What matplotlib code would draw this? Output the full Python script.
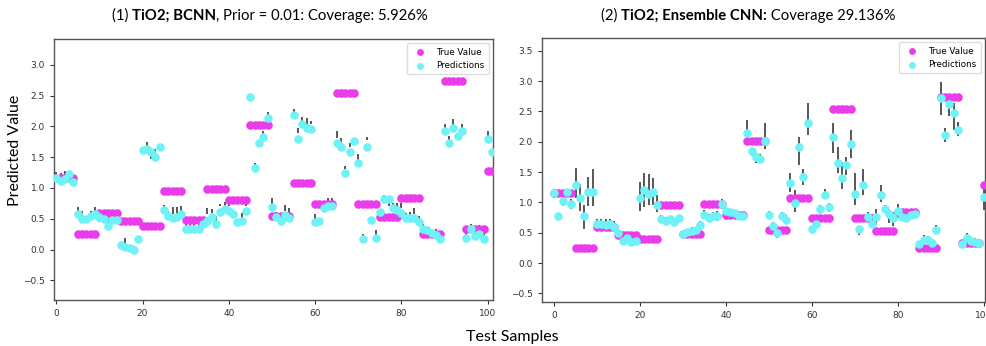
import numpy as np
import matplotlib
matplotlib.use("Agg")
import matplotlib.pyplot as plt

# true TiO2 values per test sample (same for both models)
true_vals = [
    1.16, 1.16, 1.16, 1.16, 1.16,
    0.25, 0.25, 0.25, 0.25, 0.25,
    0.59, 0.59, 0.59, 0.59, 0.59,
    0.47, 0.47, 0.47, 0.47, 0.47,
    0.39, 0.39, 0.39, 0.39, 0.39,
    0.95, 0.95, 0.95, 0.95, 0.95,
    0.48, 0.48, 0.48, 0.48, 0.48,
    0.98, 0.98, 0.98, 0.98, 0.98,
    0.80, 0.80, 0.80, 0.80, 0.80,
    2.02, 2.02, 2.02, 2.02, 2.02,
    0.55, 0.55, 0.55, 0.55, 0.55,
    1.08, 1.08, 1.08, 1.08, 1.08,
    0.74, 0.74, 0.74, 0.74, 0.74,
    2.54, 2.54, 2.54, 2.54, 2.54,
    0.74, 0.74, 0.74, 0.74, 0.74,
    0.53, 0.53, 0.53, 0.53, 0.53,
    0.84, 0.84, 0.84, 0.84, 0.84,
    0.25, 0.25, 0.25, 0.25, 0.25,
    2.73, 2.73, 2.73, 2.73, 2.73,
    0.33, 0.33, 0.33, 0.33, 0.33,
    1.28, 1.28,
]

# (1) BCNN predictions and interval bounds
bcnn_pred = [
    1.17, 1.11, 1.14, 1.23, 1.10, 0.58, 0.50, 0.50, 0.55, 0.58,
    0.53, 0.50, 0.39, 0.48, 0.48, 0.07, 0.04, 0.02, 0.00, 0.17,
    1.61, 1.63, 1.59, 1.50, 1.66, 0.64, 0.54, 0.51, 0.53, 0.57,
    0.34, 0.33, 0.34, 0.34, 0.41, 0.47, 0.53, 0.42, 0.61, 0.66,
    0.63, 0.58, 0.44, 0.47, 0.62, 2.47, 1.33, 1.73, 1.82, 2.14,
    0.69, 0.53, 0.47, 0.56, 0.51, 2.19, 1.80, 2.04, 1.98, 1.95,
    0.45, 0.46, 0.68, 0.70, 0.70, 1.73, 1.67, 1.25, 1.58, 1.76,
    1.40, 0.17, 1.66, 0.48, 0.19, 0.61, 0.82, 0.82, 0.67, 0.65,
    0.60, 0.52, 0.51, 0.51, 0.45, 0.34, 0.32, 0.27, 0.23, 0.17,
    1.93, 1.73, 1.98, 1.85, 1.92, 0.19, 0.34, 0.22, 0.25, 0.17,
    1.79, 1.58,
]
bcnn_lo = [
    1.21, 1.20, 1.21, 1.21, 1.08, 0.63, 0.55, 0.48, 0.56, 0.62,
    0.45, 0.48, 0.41, 0.55, 0.46, 0.05, 0.09, 0.04, 0.02, 0.15,
    1.59, 1.67, 1.47, 1.55, 1.64, 0.69, 0.58, 0.58, 0.58, 0.61,
    0.37, 0.37, 0.37, 0.37, 0.44, 0.58, 0.59, 0.46, 0.70, 0.70,
    0.70, 0.56, 0.42, 0.51, 0.70, 2.50, 1.37, 1.75, 1.86, 2.18,
    0.74, 0.56, 0.45, 0.63, 0.60, 2.24, 1.89, 2.06, 2.01, 2.04,
    0.49, 0.44, 0.66, 0.74, 0.74, 1.81, 1.70, 1.31, 1.66, 1.74,
    1.45, 0.19, 1.78, 0.46, 0.22, 0.59, 0.84, 0.71, 0.69, 0.68,
    0.67, 0.55, 0.55, 0.58, 0.50, 0.36, 0.30, 0.25, 0.26, 0.15,
    1.95, 1.78, 2.00, 1.78, 1.96, 0.22, 0.38, 0.22, 0.34, 0.21,
    1.85, 1.56,
]
bcnn_hi = [
    1.26, 1.24, 1.28, 1.25, 1.12, 0.69, 0.62, 0.52, 0.62, 0.69,
    0.50, 0.52, 0.56, 0.64, 0.50, 0.09, 0.19, 0.08, 0.05, 0.19,
    1.63, 1.75, 1.54, 1.64, 1.68, 0.73, 0.62, 0.69, 0.69, 0.70,
    0.44, 0.44, 0.44, 0.44, 0.49, 0.67, 0.66, 0.54, 0.74, 0.78,
    0.75, 0.60, 0.46, 0.60, 0.78, 2.53, 1.40, 1.78, 1.93, 2.24,
    0.84, 0.61, 0.49, 0.72, 0.67, 2.28, 1.97, 2.15, 2.13, 2.09,
    0.57, 0.48, 0.70, 0.84, 0.84, 1.92, 1.81, 1.36, 1.73, 1.78,
    1.55, 0.25, 1.82, 0.50, 0.32, 0.63, 0.88, 0.76, 0.75, 0.76,
    0.76, 0.60, 0.61, 0.68, 0.55, 0.41, 0.34, 0.29, 0.33, 0.19,
    2.04, 1.85, 2.12, 1.84, 2.04, 0.29, 0.42, 0.30, 0.40, 0.28,
    1.92, 1.60,
]

# (2) Ensemble CNN predictions and interval bounds
ens_pred = [
    1.15, 0.77, 1.03, 1.17, 0.98, 1.29, 1.08, 0.77, 1.18, 1.18,
    0.64, 0.65, 0.63, 0.64, 0.60, 0.49, 0.37, 0.41, 0.35, 0.36,
    1.08, 1.20, 1.14, 1.18, 0.95, 0.73, 0.69, 0.73, 0.67, 0.75,
    0.48, 0.51, 0.53, 0.54, 0.63, 0.80, 0.74, 0.78, 0.78, 0.98,
    0.86, 0.85, 0.82, 0.78, 0.78, 2.14, 1.85, 1.75, 1.71, 2.02,
    0.80, 0.62, 0.50, 0.78, 0.71, 1.32, 0.99, 1.91, 1.42, 2.31,
    0.57, 0.65, 0.89, 1.13, 0.92, 2.08, 1.65, 1.41, 1.61, 1.96,
    1.14, 0.56, 1.29, 0.76, 0.65, 0.76, 1.12, 0.89, 0.81, 0.74,
    0.86, 0.76, 0.74, 0.79, 0.81, 0.31, 0.38, 0.38, 0.33, 0.54,
    2.72, 2.11, 2.62, 2.48, 2.20, 0.32, 0.42, 0.37, 0.35, 0.33,
    1.09,
]
ens_lo = [
    1.08, 0.72, 0.94, 1.10, 0.89, 1.08, 0.86, 0.57, 0.94, 0.94,
    0.54, 0.55, 0.54, 0.54, 0.54, 0.43, 0.31, 0.36, 0.28, 0.31,
    0.86, 0.93, 0.95, 0.96, 0.85, 0.68, 0.63, 0.66, 0.61, 0.70,
    0.44, 0.46, 0.48, 0.49, 0.58, 0.73, 0.67, 0.71, 0.70, 0.89,
    0.82, 0.80, 0.78, 0.74, 0.74, 2.03, 1.76, 1.65, 1.65, 1.88,
    0.76, 0.57, 0.41, 0.72, 0.64, 1.18, 0.85, 1.62, 1.28, 2.11,
    0.52, 0.61, 0.83, 1.05, 0.85, 1.81, 1.48, 1.23, 1.45, 1.74,
    0.96, 0.47, 1.12, 0.69, 0.61, 0.63, 1.01, 0.82, 0.66, 0.62,
    0.75, 0.69, 0.68, 0.74, 0.76, 0.27, 0.31, 0.33, 0.29, 0.48,
    2.44, 2.00, 2.43, 2.19, 2.10, 0.28, 0.36, 0.32, 0.30, 0.29,
    0.87,
]
ens_hi = [
    1.23, 0.82, 1.09, 1.23, 1.05, 1.56, 1.30, 0.96, 1.42, 1.55,
    0.73, 0.73, 0.72, 0.73, 0.69, 0.54, 0.43, 0.46, 0.38, 0.41,
    1.33, 1.48, 1.47, 1.41, 1.12, 0.79, 0.76, 0.78, 0.75, 0.80,
    0.53, 0.57, 0.59, 0.60, 0.69, 0.87, 0.81, 0.85, 0.86, 1.06,
    0.90, 0.89, 0.87, 0.83, 0.83, 2.36, 1.88, 1.81, 1.80, 2.31,
    0.86, 0.67, 0.56, 0.84, 0.79, 1.49, 1.20, 2.08, 1.55, 2.64,
    0.62, 0.70, 0.96, 1.22, 0.99, 2.31, 1.92, 1.67, 1.75, 2.19,
    1.48, 0.61, 1.55, 0.84, 0.81, 0.90, 1.29, 0.96, 0.90, 0.84,
    0.98, 0.90, 0.84, 0.85, 0.87, 0.35, 0.46, 0.44, 0.37, 0.63,
    2.98, 2.22, 2.72, 2.64, 2.33, 0.36, 0.49, 0.42, 0.42, 0.37,
    1.26,
]

TRUE_COLOR = "#ea3cea"
PRED_COLOR = "#6ef2f5"
BAR_COLOR = "#4a4a4a"
TITLE_FONT = ["Lato", "DejaVu Sans"]


def draw_panel(ax, pred, lo, hi, xlim, ylim, yticks):
    x = np.arange(len(pred))
    ax.vlines(x, lo, hi, color=BAR_COLOR, lw=1.3, zorder=2)
    ax.scatter(x, true_vals[:len(pred)], s=38, color=TRUE_COLOR,
               zorder=3, label="True Value", linewidths=0)
    ax.scatter(x, pred, s=38, color=PRED_COLOR, zorder=4, label="Predictions",
               linewidths=0)
    ax.set_xlim(*xlim)
    ax.set_ylim(*ylim)
    ax.set_xticks([0, 20, 40, 60, 80, 100])
    ax.set_yticks(yticks)
    ax.tick_params(labelsize=6.5, length=3, width=0.8, colors="#333333")
    for sp in ax.spines.values():
        sp.set_color("#555555")
        sp.set_linewidth(1.0)
    ax.legend(loc="upper right", fontsize=6.3, handletextpad=0.8,
              borderpad=0.5, framealpha=1, edgecolor="#dddddd", markerscale=0.8)


def mixed_title(fig, parts, xc, yc, size):
    # parts: list of (text, bold)
    renderer = fig.canvas.get_renderer()
    texts = []
    for s, bold in parts:
        t = fig.text(0, yc, s, fontsize=size, family=TITLE_FONT,
                     fontweight="bold" if bold else "normal", va="center", ha="left")
        texts.append(t)
    widths = [t.get_window_extent(renderer).width for t in texts]
    total = sum(widths)
    x = xc * fig.bbox.width - total / 2
    for t, w in zip(texts, widths):
        t.set_x(x / fig.bbox.width)
        x += w


fig = plt.figure(figsize=(9.86, 3.46), dpi=100)
ax1 = fig.add_axes([0.0548, 0.1329, 0.4452, 0.7544])
ax2 = fig.add_axes([0.5497, 0.1272, 0.4493, 0.7630])

draw_panel(ax1, bcnn_pred, bcnn_lo, bcnn_hi, (-0.5, 101.2), (-0.82, 3.42),
           [-0.5, 0.0, 0.5, 1.0, 1.5, 2.0, 2.5, 3.0])
draw_panel(ax2, ens_pred, ens_lo, ens_hi, (-2.8, 100.3), (-0.64, 3.71),
           [-0.5, 0.0, 0.5, 1.0, 1.5, 2.0, 2.5, 3.0, 3.5])

fig.canvas.draw()
mixed_title(fig, [("(1) ", False), ("TiO2; BCNN", True),
                  (", Prior = 0.01: Coverage: 5.926%", False)],
            270 / 986, 1 - 16 / 346, 10.7)
mixed_title(fig, [("(2) ", False), ("TiO2; Ensemble CNN:", True),
                  (" Coverage 29.136%", False)],
            748 / 986, 1 - 16 / 346, 10.7)

fig.text(15 / 986, 1 - 150 / 346, "Predicted Value", rotation=90, fontsize=11.5,
         family=TITLE_FONT, ha="center", va="center")
fig.text(512 / 986, 1 - 337 / 346, "Test Samples", fontsize=11.5,
         family=TITLE_FONT, ha="center", va="center")

fig.savefig("out.png", dpi=100)
